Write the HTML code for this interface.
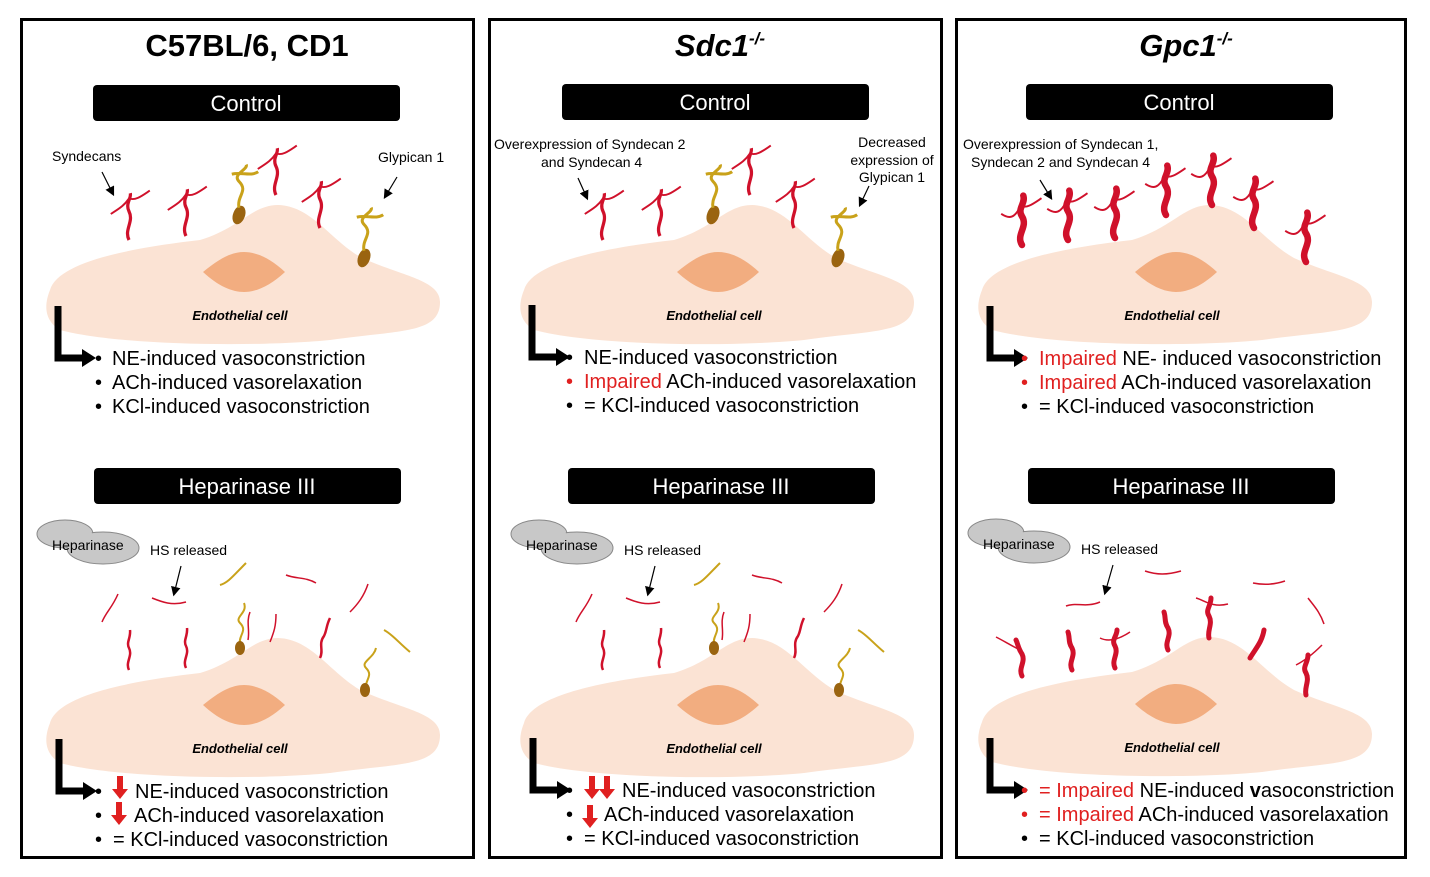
<!DOCTYPE html>
<html><head><meta charset="utf-8"><style>
html,body{margin:0;padding:0;background:#fff}
svg{display:block;font-family:"Liberation Sans",Arial,sans-serif}
</style></head><body>
<svg width="1430" height="877" viewBox="0 0 1430 877" xmlns="http://www.w3.org/2000/svg">
<defs>
<g id="cell">
<path d="M50,290 C58,262 130,248 200,240 C240,228 252,205 278,205 C312,206 330,240 362,258 C402,276 440,280 440,302 C440,334 400,330 330,340 C260,347 120,346 60,330 C44,320 44,305 50,290 Z" fill="#fbe3d4"/>
<path d="M203,272 C220,258 232,252 244,252 C256,252 270,258 285,272 C270,286 256,292 244,292 C232,292 218,286 203,272 Z" fill="#f2ad80"/>
<text x="240" y="320" font-size="13" font-weight="bold" font-style="italic" text-anchor="middle">Endothelial cell</text>
</g>
<g id="syn">
<path d="M0,0 c-4,-8 4,-14 0,-22 c-3,-6 2,-10 1,-14" fill="none" stroke="#d0112b" stroke-width="2.5"/>
<path d="M-14,-20 c6,-4 10,-6 14,-12 c5,2 10,-2 16,-6" fill="none" stroke="#d0112b" stroke-width="1.5"/>
</g>
<g id="synb">
<path d="M0,0 c-5,-8 5,-14 0,-22 c-4,-6 3,-10 1,-16" fill="none" stroke="#d0112b" stroke-width="5" stroke-linecap="round"/>
<path d="M-16,-24 c6,4 10,4 15,-6 c5,2 10,-2 16,-6" fill="none" stroke="#d0112b" stroke-width="1.5"/>
</g>
<g id="gly">
<ellipse cx="0" cy="0" rx="5" ry="8" fill="#9a6410" transform="rotate(20)"/>
<path d="M0,-6 c-2,-10 8,-14 0,-22 c-6,-6 8,-10 6,-14 M-6,-34 c8,-2 16,2 22,-2" fill="none" stroke="#c9a21a" stroke-width="2.5"/>
</g>
<g id="larrow">
<path d="M0,0 v52 h26" fill="none" stroke="#000" stroke-width="7"/>
<path d="M24,43 l14,9 l-14,9 z" fill="#000"/>
</g>
<g id="cloud">
<ellipse cx="24" cy="14" rx="28" ry="14" fill="#c8c8c8" stroke="#888"/>
<ellipse cx="62" cy="28" rx="36" ry="16" fill="#c8c8c8" stroke="#888"/>
<ellipse cx="24" cy="14" rx="27" ry="13" fill="#c8c8c8"/>
<text x="11" y="30" font-size="14">Heparinase</text>
</g>
<marker id="ah" markerWidth="8" markerHeight="8" refX="6" refY="4" orient="auto"><path d="M0,0 L8,4 L0,8 z" fill="#000"/></marker>
<g id="dn"><rect x="-3" y="0" width="6" height="14" fill="#e02020"/><path d="M-8,13 h16 l-8,10 z" fill="#e02020"/></g>
</defs>

<rect x="21.5" y="19.5" width="452" height="838" fill="none" stroke="#000" stroke-width="3"/>
<rect x="489.5" y="19.5" width="452" height="838" fill="none" stroke="#000" stroke-width="3"/>
<rect x="956.5" y="19.5" width="449" height="838" fill="none" stroke="#000" stroke-width="3"/>

<g font-size="31" font-weight="bold" text-anchor="middle">
<text x="247" y="56">C57BL/6, CD1</text>
<text x="720" y="56" font-style="italic">Sdc1<tspan font-size="17" dy="-12">-/-</tspan></text>
<text x="1186" y="56" font-style="italic">Gpc1<tspan font-size="17" dy="-12">-/-</tspan></text>
</g>

<g fill="#000">
<rect x="93" y="85" width="307" height="36" rx="4"/>
<rect x="562" y="84" width="307" height="36" rx="4"/>
<rect x="1026" y="84" width="307" height="36" rx="4"/>
<rect x="94" y="468" width="307" height="36" rx="4"/>
<rect x="568" y="468" width="307" height="36" rx="4"/>
<rect x="1028" y="468" width="307" height="36" rx="4"/>
</g>
<g fill="#fff" font-size="22" text-anchor="middle">
<text x="246" y="111">Control</text>
<text x="715" y="110">Control</text>
<text x="1179" y="110">Control</text>
<text x="247" y="494">Heparinase III</text>
<text x="721" y="494">Heparinase III</text>
<text x="1181" y="494">Heparinase III</text>
</g>

<use href="#cell"/>
<use href="#cell" transform="translate(474,0)"/>
<use href="#cell" transform="translate(932,0)"/>
<use href="#cell" transform="translate(0,433)"/>
<use href="#cell" transform="translate(474,433)"/>
<use href="#cell" transform="translate(932,432)"/>

<use href="#syn" transform="translate(129,240) scale(1.3)"/>
<use href="#syn" transform="translate(186,236) scale(1.3)"/>
<use href="#gly" transform="translate(239,215) scale(1.2)"/>
<use href="#syn" transform="translate(276,195) scale(1.3)"/>
<use href="#syn" transform="translate(320,228) scale(1.3)"/>
<use href="#gly" transform="translate(364,258) scale(1.2)"/>
<use href="#syn" transform="translate(603,240) scale(1.3)"/>
<use href="#syn" transform="translate(660,236) scale(1.3)"/>
<use href="#gly" transform="translate(713,215) scale(1.2)"/>
<use href="#syn" transform="translate(750,195) scale(1.3)"/>
<use href="#syn" transform="translate(794,228) scale(1.3)"/>
<use href="#gly" transform="translate(838,258) scale(1.2)"/>
<use href="#synb" transform="translate(1022,245) scale(1.3)"/>
<use href="#synb" transform="translate(1068,240) scale(1.3)"/>
<use href="#synb" transform="translate(1115,238) scale(1.3)"/>
<use href="#synb" transform="translate(1166,215) scale(1.3)"/>
<use href="#synb" transform="translate(1212,205) scale(1.3)"/>
<use href="#synb" transform="translate(1254,228) scale(1.3)"/>
<use href="#synb" transform="translate(1306,262) scale(1.3)"/>

<g fill="none" stroke="#d0112b" stroke-width="2.5">
<path d="M129,670 c-4,-8 4,-14 0,-22 c-3,-6 2,-10 1,-18 M186,668 c-4,-8 4,-14 0,-22 c-3,-6 2,-10 1,-18 M320,658 c4,-8 -2,-14 4,-22 c3,-6 2,-10 6,-18"/>
<path d="M603,670 c-4,-8 4,-14 0,-22 c-3,-6 2,-10 1,-18 M660,668 c-4,-8 4,-14 0,-22 c-3,-6 2,-10 1,-18 M794,658 c4,-8 -2,-14 4,-22 c3,-6 2,-10 6,-18"/>
</g>
<g fill="none" stroke="#d0112b" stroke-width="1.5">
<path d="M102,622 c4,-10 10,-14 16,-28 M152,598 c10,4 20,8 34,4 M248,640 c2,-10 -2,-18 2,-28 M286,575 c10,4 20,2 30,8 M350,612 c8,-8 14,-16 18,-28 M270,642 c4,-10 6,-16 6,-28"/>
<path d="M576,622 c4,-10 10,-14 16,-28 M626,598 c10,4 20,8 34,4 M722,640 c2,-10 -2,-18 2,-28 M752,575 c10,4 20,2 30,8 M824,612 c8,-8 14,-16 18,-28 M744,642 c4,-10 6,-16 6,-28"/>
<path d="M1066,606 c10,-4 20,2 34,-4 M1145,571 c12,4 22,4 36,0 M1253,583 c10,2 20,2 32,-2 M1308,598 c6,8 12,14 16,26"/>
</g>
<g fill="none" stroke="#c9a21a" stroke-width="2">
<path d="M240,645 c-2,-10 8,-14 0,-22 c-6,-6 8,-10 4,-20 M220,585 c8,-2 14,-10 26,-22 M366,690 c-2,-10 8,-14 0,-22 c-6,-6 8,-10 10,-20 M384,630 c8,4 14,12 26,22"/>
<path d="M714,645 c-2,-10 8,-14 0,-22 c-6,-6 8,-10 4,-20 M694,585 c8,-2 14,-10 26,-22 M840,690 c-2,-10 8,-14 0,-22 c-6,-6 8,-10 10,-20 M858,630 c8,4 14,12 26,22"/>
</g>
<g fill="#9a6410">
<ellipse cx="240" cy="648" rx="5" ry="7"/><ellipse cx="365" cy="690" rx="5" ry="7"/>
<ellipse cx="714" cy="648" rx="5" ry="7"/><ellipse cx="839" cy="690" rx="5" ry="7"/>
</g>
<g fill="none" stroke="#d0112b" stroke-width="5" stroke-linecap="round">
<path d="M1022,676 c-4,-8 4,-14 0,-22 c-4,-6 -4,-10 -6,-14 M1072,670 c-4,-8 4,-14 0,-22 c-4,-6 -2,-10 -4,-16 M1115,668 c-4,-8 4,-14 0,-22 c-4,-6 2,-10 2,-16 M1168,650 c-4,-8 4,-14 0,-22 c-4,-6 -2,-10 -4,-16 M1209,638 c-2,-8 4,-14 0,-22 c-4,-6 2,-10 2,-18 M1250,658 c6,-10 12,-16 14,-28 M1306,695 c-2,-8 4,-14 0,-22 c-4,-6 2,-10 2,-18"/>
</g>
<g fill="none" stroke="#d0112b" stroke-width="1.5">
<path d="M996,637 c8,4 14,8 26,14 M1100,638 c8,4 18,2 30,-6 M1196,598 c8,2 16,10 32,6 M1296,665 c8,-4 16,-10 26,-20"/>
</g>

<g font-size="14">
<text x="52" y="161">Syndecans</text>
<text x="378" y="162">Glypican 1</text>
<text x="494" y="149">Overexpression of Syndecan 2</text>
<text x="541" y="167">and Syndecan 4</text>
<text x="892" y="147" text-anchor="middle">Decreased</text>
<text x="892" y="165" text-anchor="middle">expression of</text>
<text x="892" y="182" text-anchor="middle">Glypican 1</text>
<text x="963" y="149">Overexpression of Syndecan 1,</text>
<text x="971" y="167">Syndecan 2 and Syndecan 4</text>
<text x="150" y="555">HS released</text>
<text x="624" y="555">HS released</text>
<text x="1081" y="554">HS released</text>
</g>
<g stroke="#000" stroke-width="1.2" marker-end="url(#ah)">
<line x1="102" y1="172" x2="113" y2="194"/>
<line x1="397" y1="177" x2="385" y2="197"/>
<line x1="578" y1="178" x2="587" y2="198"/>
<line x1="869" y1="186" x2="860" y2="205"/>
<line x1="1040" y1="180" x2="1051" y2="198"/>
<line x1="181" y1="566" x2="174" y2="594"/>
<line x1="655" y1="566" x2="648" y2="594"/>
<line x1="1113" y1="565" x2="1105" y2="593"/>
</g>

<use href="#cloud" transform="translate(41,520)"/>
<use href="#cloud" transform="translate(515,520)"/>
<use href="#cloud" transform="translate(972,519)"/>

<use href="#larrow" transform="translate(58,306)"/>
<use href="#larrow" transform="translate(532,305)"/>
<use href="#larrow" transform="translate(990,306)"/>
<use href="#larrow" transform="translate(59,739)"/>
<use href="#larrow" transform="translate(533,738)"/>
<use href="#larrow" transform="translate(990,738)"/>

<g font-size="20">
<text x="95" y="365">•</text><text x="112" y="365">NE-induced vasoconstriction</text>
<text x="95" y="389">•</text><text x="112" y="389">ACh-induced vasorelaxation</text>
<text x="95" y="413">•</text><text x="112" y="413">KCl-induced vasoconstriction</text>

<text x="566" y="364">•</text><text x="584" y="364">NE-induced vasoconstriction</text>
<text x="566" y="388" fill="#e02020">•</text><text x="584" y="388"><tspan fill="#e02020">Impaired</tspan> ACh-induced vasorelaxation</text>
<text x="566" y="412">•</text><text x="584" y="412">= KCl-induced vasoconstriction</text>

<text x="1021" y="365" fill="#e02020">•</text><text x="1039" y="365"><tspan fill="#e02020">Impaired</tspan> NE- induced vasoconstriction</text>
<text x="1021" y="389" fill="#e02020">•</text><text x="1039" y="389"><tspan fill="#e02020">Impaired</tspan> ACh-induced vasorelaxation</text>
<text x="1021" y="413">•</text><text x="1039" y="413">= KCl-induced vasoconstriction</text>

<text x="95" y="798">•</text><text x="135" y="798">NE-induced vasoconstriction</text>
<text x="95" y="822">•</text><text x="134" y="822">ACh-induced vasorelaxation</text>
<text x="95" y="846">•</text><text x="113" y="846">= KCl-induced vasoconstriction</text>

<text x="566" y="797">•</text><text x="622" y="797">NE-induced vasoconstriction</text>
<text x="566" y="821">•</text><text x="604" y="821">ACh-induced vasorelaxation</text>
<text x="566" y="845">•</text><text x="584" y="845">= KCl-induced vasoconstriction</text>

<text x="1021" y="797" fill="#e02020">•</text><text x="1039" y="797"><tspan fill="#e02020">= Impaired</tspan> NE-induced <tspan font-weight="bold">v</tspan>asoconstriction</text>
<text x="1021" y="821" fill="#e02020">•</text><text x="1039" y="821"><tspan fill="#e02020">= Impaired</tspan> ACh-induced vasorelaxation</text>
<text x="1021" y="845">•</text><text x="1039" y="845">= KCl-induced vasoconstriction</text>
</g>
<use href="#dn" transform="translate(120,776)"/>
<use href="#dn" transform="translate(119,802)"/>
<use href="#dn" transform="translate(592,776)"/>
<use href="#dn" transform="translate(607,776)"/>
<use href="#dn" transform="translate(590,805)"/>
</svg>
</body></html>
